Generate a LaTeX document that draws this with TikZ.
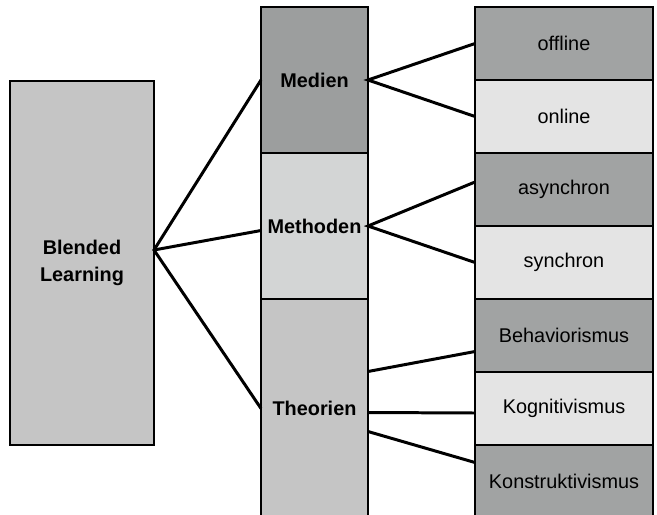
\documentclass[tikz,border=0pt]{standalone}
\usepackage{fontspec}
\setmainfont{Liberation Sans}
\usepackage{xcolor}
\usepackage{tikz}
\usetikzlibrary{positioning,calc}

\definecolor{grayDark}{HTML}{9C9E9E}
\definecolor{grayMid}{HTML}{A1A3A3}
\definecolor{grayLight}{HTML}{D3D5D5}
\definecolor{grayPale}{HTML}{E4E4E4}
\definecolor{grayBase}{HTML}{C5C5C5}

\begin{document}
\begin{tikzpicture}[
    every node/.style={draw, line width=1.1pt, inner sep=0pt, outer sep=0pt,
        font=\fontsize{11.3}{15}\selectfont},
    mainbox/.style={minimum width=2.14cm, font=\bfseries\fontsize{11.3}{15}\selectfont},
    subbox/.style={minimum width=3.56cm, minimum height=1.46cm},
    link/.style={line width=1.7pt}
]
    \clip (0,0) rectangle (13.14,-10.28);

    % Blended Learning
    \node[fill=grayBase, minimum width=2.88cm, minimum height=7.28cm,
          align=center, font=\bfseries\fontsize{11.3}{15}\selectfont]
        (bl) at (1.64,-5.26) {Blended\\Learning};

    % middle column
    \node[mainbox, fill=grayDark, minimum height=2.92cm, anchor=north]
        (medien) at (6.29,-0.14) {Medien};
    \node[mainbox, fill=grayLight, minimum height=2.92cm, below=0pt of medien]
        (methoden) {Methoden};
    \node[mainbox, fill=grayBase, minimum height=4.38cm, below=0pt of methoden]
        (theorien) {Theorien};

    % right column
    \node[subbox, fill=grayMid, anchor=north] (offline) at (11.28,-0.14) {offline};
    \node[subbox, fill=grayPale, below=0pt of offline] (online) {online};
    \node[subbox, fill=grayMid, below=0pt of online] (asynchron) {asynchron};
    \node[subbox, fill=grayPale, below=0pt of asynchron] (synchron) {synchron};
    \node[subbox, fill=grayMid, below=0pt of synchron] (behav) {Behaviorismus};
    \node[subbox, fill=grayPale, below=0pt of behav] (kogn) {Kognitivismus};
    \node[subbox, fill=grayMid, below=0pt of kogn] (konstr) {Konstruktivismus};

    % connectors
    \coordinate (blhub) at ([yshift=0.26cm]bl.east);
    \draw[link] (medien.west) -- (blhub) -- (theorien.west);
    \draw[link] (blhub) -- ([yshift=-0.09cm]methoden.west);

    \draw[link] (offline.west) -- (medien.east) -- (online.west);
    \draw[link] ([yshift=0.15cm]asynchron.west) -- (methoden.east) -- (synchron.west);

    \draw[link] ([yshift=0.74cm]theorien.east) -- ([yshift=-0.32cm]behav.west);
    \draw[link] ([yshift=-0.08cm]theorien.east) -- ([yshift=-0.09cm]kogn.west);
    \draw[link] ([yshift=-0.46cm]theorien.east) -- ([yshift=0.38cm]konstr.west);
\end{tikzpicture}
\end{document}
